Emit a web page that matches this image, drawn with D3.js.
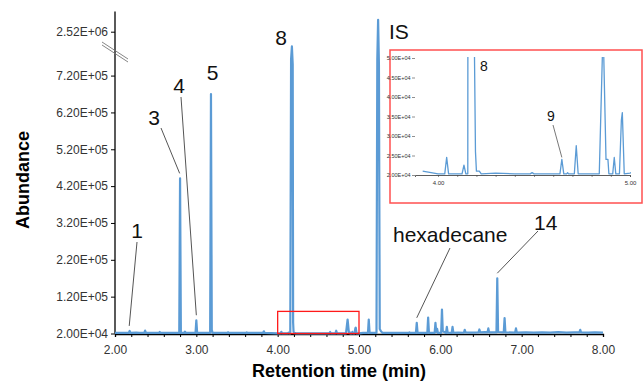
<!DOCTYPE html>
<html><head><meta charset="utf-8">
<script src="https://cdn.jsdelivr.net/npm/d3@7"></script>
<style>html,body{margin:0;padding:0;background:#fff;}svg{display:block;font-family:"Liberation Sans",Arial,sans-serif;}</style>
</head><body><svg id="c" width="643" height="382"></svg>
<script>
const retentionTimes = [2.00,2.05,2.10,2.17,2.18,2.19,2.26,2.30,2.36,2.37,2.38,2.46,2.54,2.55,2.56,2.64,2.72,2.79,2.80,2.81,2.85,2.86,2.87,2.93,2.99,3.00,3.01,3.08,3.17,3.18,3.19,3.20,3.28,3.38,3.39,3.40,3.50,3.61,3.62,3.63,3.72,3.82,3.83,3.84,3.92,
4.00,4.035,4.045,4.055,4.125,4.135,4.145,4.155,4.165,4.175,4.185,4.19,4.195,4.20,4.215,4.225,4.30,4.40,4.48,4.49,4.50,4.635,4.645,4.655,4.67,4.675,4.68,4.71,4.72,4.73,4.84,4.86,4.875,4.885,4.89,4.91,4.918,4.926,4.945,4.955,4.96,4.97,
5.00,5.05,5.11,5.12,5.13,5.215,5.225,5.235,5.245,5.255,5.27,5.29,5.40,5.50,5.61,5.62,5.63,5.70,5.71,5.72,5.84,5.85,5.86,5.93,5.94,5.95,5.96,5.97,
6.01,6.02,6.03,6.07,6.08,6.09,6.14,6.15,6.16,6.22,6.29,6.30,6.31,6.38,6.47,6.48,6.49,6.55,6.58,6.59,6.60,6.69,6.70,6.71,6.78,6.79,6.80,6.92,6.93,6.94,
7.05,7.15,7.25,7.35,7.45,7.55,7.65,7.71,7.72,7.73,7.82,7.90,8.00];
const abundances = [21500,22000,21500,21500,27000,21500,22500,21500,21500,28000,21500,22000,21500,24000,21500,22000,21500,21500,441000,21500,21500,25000,21500,22000,21500,56000,21500,22000,21500,670000,30000,21500,22000,21500,23500,21500,22000,21500,23000,21500,22000,21500,26000,21500,21000,
20300,20300,24500,20300,20300,22500,20300,20300,765000,2480000,750000,50000,26000,21000,21000,20300,20500,20300,20300,20600,20300,20300,24000,20300,20300,20600,20300,20300,27500,20300,20300,58000,24000,24000,20300,20300,24500,20300,20300,34000,36000,20300,
20500,21500,21500,58000,21500,21500,765000,2552000,750000,32000,26000,21500,22000,21500,21500,23000,21500,21500,49000,21500,21500,63000,21500,21500,49000,24000,33000,21500,
21500,85000,26000,21500,38000,22000,21500,38000,22000,22500,22000,30000,23000,22500,23000,31000,23000,23500,23000,34000,23000,23000,170000,24000,23000,62000,23000,22500,34000,22500,
23000,22500,23000,22500,23500,22500,23000,23000,30000,23000,22500,23000,22500];

const yTickValues = [20000,120000,220000,320000,420000,520000,620000,720000,2520000];
const xTickLabels = [2,3,4,5,6,7,8];
const insetYTicks = [20000,25000,30000,35000,40000,45000,50000];
const insetXTickLabels = [4,5];
const peakLabels = ["1","3","4","5","8","IS","hexadecane","14"];

const data = retentionTimes.map((t,i)=>({t, v: abundances[i]}));
const svg = d3.select("#c");
svg.append("rect").attr("width",643).attr("height",382).attr("fill","#fff");

const fmt = v => { const e = Math.floor(Math.log10(v)); const m = v/Math.pow(10,e); return m.toFixed(2)+"E+"+String(e).padStart(2,"0"); };

// main scales (broken y axis)
const x = d3.scaleLinear().domain([2,8]).range([115,603]);
const y = d3.scaleLinear().domain([20000,784000,2465000,2520000]).range([333.5,52,52,31.7]);

const lineColor = "#5b9bd5";

// y axis
const yAx = svg.append("g").attr("transform","translate(115,0)")
  .call(d3.axisLeft(y).tickValues(yTickValues).tickFormat(fmt).tickSize(4).tickPadding(3));
yAx.select(".domain").remove();
yAx.selectAll("text").attr("font-size",12).attr("fill","#333").attr("font-family","Liberation Sans, Arial, sans-serif");
yAx.selectAll("line").attr("stroke","#000");
svg.append("line").attr("x1",115).attr("x2",115).attr("y1",y(20000)).attr("y2",y(2575000)).attr("stroke","#000").attr("stroke-width",1.3);
// break marks
[0,3].forEach(o=>svg.append("line").attr("x1",102).attr("y1",42+o).attr("x2",128).attr("y2",59+o).attr("stroke","#777").attr("stroke-width",0.9));

// x axis
const xAx = svg.append("g").attr("transform","translate(0,334)")
  .call(d3.axisBottom(x).tickValues(d3.range(0,31).map(i=>2+i*0.2)).tickSize(3).tickPadding(8)
  .tickFormat(d=> xTickLabels.some(v=>Math.abs(v-d)<1e-6) ? d3.format(".2f")(d) : ""));
xAx.select(".domain").attr("stroke","#000").attr("stroke-width",1.3);
xAx.selectAll("text").attr("font-size",12).attr("fill","#333").attr("font-family","Liberation Sans, Arial, sans-serif");
xAx.selectAll("line").attr("stroke","#000");

// main trace
svg.append("path").datum(data).attr("fill","none").attr("stroke",lineColor).attr("stroke-width",2.2)
  .attr("stroke-linejoin","round")
  .attr("d", d3.line().x(d=>x(d.t)).y(d=>y(d.v)));

// red box in main
svg.append("rect").attr("x",x(4)).attr("y",y(80000)).attr("width",x(5)-x(4)).attr("height",y(20000)-y(80000))
  .attr("fill","none").attr("stroke","#ff1a1a").attr("stroke-width",1.3);

// axis titles
svg.append("text").attr("x",339).attr("y",377).attr("text-anchor","middle").attr("font-size",18).attr("font-weight","bold").text("Retention time (min)");
svg.append("text").attr("transform","translate(29,180) rotate(-90)").attr("text-anchor","middle").attr("font-size",18).attr("font-weight","bold").text("Abundance");

// peak labels
const labelPos = [[137,238,"middle"],[154,125,"middle"],[179,93,"middle"],[212.5,80,"middle"],[281,45,"middle"],[389,39,"start"],[393,242,"start"],[534,230,"start"]];
peakLabels.forEach((s,i)=>svg.append("text").attr("x",labelPos[i][0]).attr("y",labelPos[i][1]).attr("text-anchor",labelPos[i][2]).attr("font-size",21).attr("fill","#111").text(s));
const leaders = [[137,242,2.175,27000],[161,128,2.795,441000],[181,97,3.00,56000],[450,248,5.71,49000],[538,231,6.70,170000]];
leaders.forEach(l=>svg.append("line").attr("x1",l[0]).attr("y1",l[1]).attr("x2",x(l[2])).attr("y2",y(l[3])-5).attr("stroke","#555").attr("stroke-width",1));

// inset
svg.append("rect").attr("x",390).attr("y",50).attr("width",252).attr("height",153).attr("fill","#fff").attr("stroke","#ff5050").attr("stroke-width",1.5);
const xi = d3.scaleLinear().domain([3.88,5.0]).range([415,630]);
const yi = d3.scaleLinear().domain([20000,50000]).range([175,58]);
svg.append("clipPath").attr("id","ic").append("rect").attr("x",415).attr("y",57).attr("width",216).attr("height",119);
const iyAx = svg.append("g").attr("transform","translate(415,0)")
  .call(d3.axisLeft(yi).tickValues(insetYTicks).tickFormat(fmt).tickSize(3).tickPadding(1.5));
iyAx.select(".domain").remove();
iyAx.selectAll("text").attr("font-size",5.5).attr("fill","#333").attr("font-family","Liberation Sans, Arial, sans-serif");
iyAx.selectAll("line").attr("stroke","#444").attr("stroke-width",0.6);
const ixAx = svg.append("g").attr("transform","translate(0,175)")
  .call(d3.axisBottom(xi).tickValues(d3.range(0,11).map(i=>4+i*0.1)).tickSize(2).tickPadding(4)
  .tickFormat(d=> insetXTickLabels.some(v=>Math.abs(v-d)<1e-6) ? d3.format(".2f")(d) : ""));
ixAx.select(".domain").attr("stroke","#333").attr("stroke-width",0.8);
ixAx.selectAll("text").attr("font-size",6).attr("fill","#333").attr("font-family","Liberation Sans, Arial, sans-serif");
ixAx.selectAll("line").attr("stroke","#444").attr("stroke-width",0.6);
svg.append("path").datum(data.filter(d=>d.t>=3.92 && d.t<=5.05)).attr("clip-path","url(#ic)")
  .attr("fill","none").attr("stroke",lineColor).attr("stroke-width",1.3).attr("stroke-linejoin","round")
  .attr("d", d3.line().x(d=>xi(d.t)).y(d=>yi(d.v)));
svg.append("text").attr("x",480).attr("y",71).attr("font-size",14).attr("fill","#111").text("8");
svg.append("text").attr("x",547).attr("y",121).attr("font-size",14).attr("fill","#111").text("9");
svg.append("line").attr("x1",553).attr("y1",125).attr("x2",xi(4.645)).attr("y2",yi(24000)-2).attr("stroke","#555").attr("stroke-width",0.8);
</script></body></html>
